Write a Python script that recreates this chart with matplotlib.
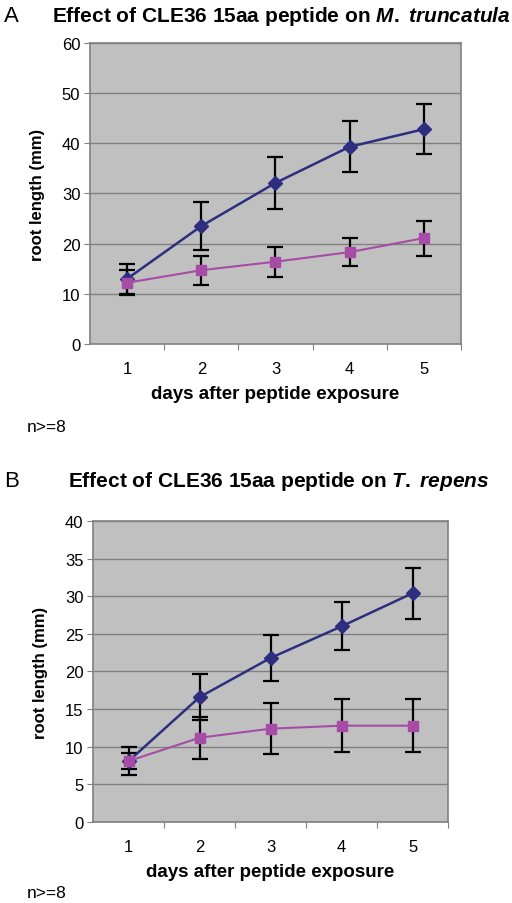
import matplotlib
matplotlib.use("Agg")
import matplotlib.pyplot as plt

plt.rcParams['font.family'] = ['Liberation Sans', 'DejaVu Sans']
plt.rcParams['mathtext.fontset'] = 'custom'
plt.rcParams['mathtext.it'] = 'Liberation Sans:italic:bold'
plt.rcParams['mathtext.rm'] = 'Liberation Sans:bold'

days = [1, 2, 3, 4, 5]

# panel A - M. truncatula
a_ctrl = [13.0, 23.5, 32.1, 39.3, 42.8]
a_ctrl_err = [3.0, 4.7, 5.2, 5.1, 5.0]
a_pep = [12.2, 14.7, 16.4, 18.3, 21.1]
a_pep_err = [2.5, 2.9, 3.0, 2.8, 3.5]

# panel B - T. repens
b_ctrl = [8.1, 16.6, 21.8, 26.0, 30.4]
b_ctrl_err = [1.9, 3.0, 3.1, 3.2, 3.4]
b_pep = [8.1, 11.2, 12.4, 12.8, 12.8]
b_pep_err = [1.1, 2.8, 3.4, 3.5, 3.5]

navy = '#2e2e80'
pink = '#a64ca6'
grey = '#808080'

fig = plt.figure(figsize=(5.12, 9.04), dpi=100)


def panel(ax, ctrl, ctrl_err, pep, pep_err, ymax):
    ax.set_facecolor('#c0c0c0')
    ax.errorbar(days, ctrl, yerr=ctrl_err, color=navy, lw=1.8, marker='D', ms=7,
                ecolor='black', elinewidth=1.6, capsize=6, capthick=1.6, zorder=3)
    ax.errorbar(days, pep, yerr=pep_err, color=pink, lw=1.5, marker='s', ms=7,
                ecolor='black', elinewidth=1.6, capsize=6, capthick=1.6, zorder=3)
    ax.set_xlim(0.5, 5.5)
    ax.set_ylim(0, ymax)
    ax.set_yticks(range(0, ymax + 1, 5 if ymax == 40 else 10))
    ax.set_xticks([1.5, 2.5, 3.5, 4.5, 5.5], minor=False)
    ax.set_xticklabels([])
    ax.set_xticks(days, minor=True)
    ax.set_xticklabels([str(d) for d in days], minor=True, fontsize=12)
    ax.tick_params(axis='x', which='minor', length=0, pad=12)
    ax.tick_params(axis='x', which='major', length=4, color=grey)
    ax.tick_params(axis='y', length=4, color=grey, labelsize=12, pad=3)
    ax.grid(axis='y', color=grey, lw=1)
    ax.set_axisbelow(True)
    for s in ax.spines.values():
        s.set_color(grey)
        s.set_linewidth(1.2)
    ax.set_xlabel('days after peptide exposure', fontsize=13.5, fontweight='bold', labelpad=7)
    ax.set_ylabel('root length (mm)', fontsize=12, fontweight='bold', labelpad=12)


ax1 = fig.add_axes([0.176, 0.6184, 0.724, 0.333])
panel(ax1, a_ctrl, a_ctrl_err, a_pep, a_pep_err, 60)
ax2 = fig.add_axes([0.182, 0.0896, 0.693, 0.333])
panel(ax2, b_ctrl, b_ctrl_err, b_pep, b_pep_err, 40)

fig.text(0.008, 0.982, 'A', fontsize=16, va='center', ha='left')
fig.text(0.55, 0.982, 'Effect of CLE36 15aa peptide on $\\it{M.}$ $\\it{truncatula}$',
         fontsize=15, fontweight='bold', va='center', ha='center')
fig.text(0.008, 0.467, 'B', fontsize=16, va='center', ha='left')
fig.text(0.545, 0.467, 'Effect of CLE36 15aa peptide on $\\it{T.}$ $\\it{repens}$',
         fontsize=15, fontweight='bold', va='center', ha='center')
fig.text(0.053, 0.527, 'n>=8', fontsize=12.5, va='center', ha='left')
fig.text(0.053, 0.012, 'n>=8', fontsize=12.5, va='center', ha='left')

fig.savefig('out.png', dpi=100)
